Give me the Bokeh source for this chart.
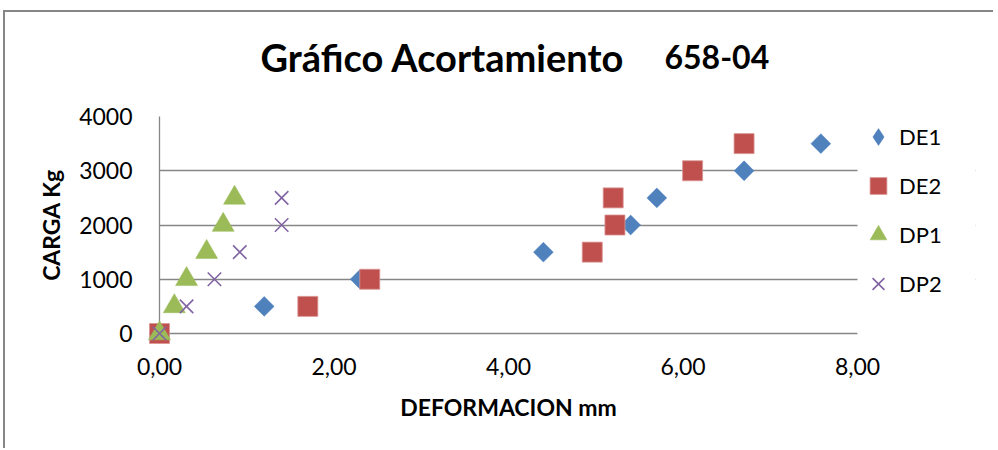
from bokeh.plotting import figure
from bokeh.models import (Legend, LegendItem, FixedTicker, BoxAnnotation,
                          CustomJSTickFormatter, Range1d)
from bokeh.core.properties import value
from bokeh.embed import file_html
from bokeh.resources import INLINE

# ---- data ----
de1_x = [0.00, 1.20, 2.30, 4.40, 5.40, 5.70, 6.70, 7.58]
de1_y = [0, 500, 1000, 1500, 2000, 2500, 3000, 3500]
de2_x = [0.00, 1.70, 2.41, 4.96, 5.22, 5.20, 6.11, 6.70]
de2_y = [0, 500, 1000, 1500, 2000, 2500, 3000, 3500]
dp1_x = [0.00, 0.17, 0.31, 0.54, 0.73, 0.86]
dp1_y = [0, 500, 1000, 1500, 2000, 2500]
dp2_x = [0.00, 0.31, 0.63, 0.92, 1.40, 1.40]
dp2_y = [0, 500, 1000, 1500, 2000, 2500]

x_ticks = [0, 2, 4, 6, 8]
y_ticks = [0, 1000, 2000, 3000, 4000]

title_main = "Gráfico Acortamiento"
title_code = "658-04"
x_label = "DEFORMACION mm"
y_label = "CARGA Kg"
names = ["DE1", "DE2", "DP1", "DP2"]

FONT = "Lato"
GRAY = "#868686"
COLORS = ["#4F81BD", "#C0504D", "#9BBB59", "#8064A2"]

# ---- layout (pixels) ----
OX, OY = 5, 12                    # page offset of the figure (margin + border)
W, H = 990, 438
B_LEFT, B_RIGHT, B_TOP, B_BOTTOM = 154, 20, 104, 117
AXIS_PX = 698                     # pixels spanned by the 0..8 axis
X0, XMAX, Y0, Y1 = 0, 8, 0, 4000
BASELINE_FIX = 17                 # text glyph baseline correction (px)

frame_w = W - B_LEFT - B_RIGHT
frame_h = H - B_TOP - B_BOTTOM
X1 = X0 + (XMAX - X0) * frame_w / AXIS_PX   # extra room right of 8 holds the legend
frame_left = OX + B_LEFT
frame_bottom = OY + H - B_BOTTOM

def page_x(px):
    return X0 + (px - frame_left) * (X1 - X0) / frame_w

def page_y(py):
    return Y0 + (frame_bottom - (py - BASELINE_FIX)) * (Y1 - Y0) / frame_h

p = figure(width=W, height=H, output_backend="svg", toolbar_location=None,
           x_range=Range1d(X0, X1), y_range=Range1d(Y0, Y1),
           min_border_left=B_LEFT, min_border_right=B_RIGHT,
           min_border_top=B_TOP, min_border_bottom=B_BOTTOM)
p.styles = {"border-left": f"2px solid {GRAY}", "border-top": f"2px solid {GRAY}",
            "margin-left": "3px", "margin-top": "10px"}
p.outline_line_color = None
p.background_fill_color = "white"
p.border_fill_color = "white"

# grid
p.xgrid.grid_line_color = None
p.ygrid.grid_line_color = GRAY
p.ygrid.grid_line_width = 1.3
p.ygrid.ticker = FixedTicker(ticks=y_ticks)

# axes
for ax in (p.xaxis[0], p.yaxis[0]):
    ax.major_tick_line_color = None
    ax.minor_tick_line_color = None
    ax.axis_line_color = GRAY
    ax.axis_line_width = 1.3
    ax.major_label_text_font = FONT
    ax.major_label_text_font_size = "23px"
    ax.major_label_text_color = "black"
    ax.axis_label_text_font = FONT
    ax.axis_label_text_font_size = "23px"
    ax.axis_label_text_font_style = "bold"
    ax.axis_label_text_color = "black"

p.xaxis.ticker = FixedTicker(ticks=x_ticks)
p.xaxis.bounds = (X0, XMAX)
p.xaxis.formatter = CustomJSTickFormatter(code="return tick.toFixed(2).replace('.', ',');")
p.xaxis.major_label_standoff = 18

p.yaxis.ticker = FixedTicker(ticks=y_ticks)
p.yaxis.formatter = CustomJSTickFormatter(code="return tick.toFixed(0);")
p.yaxis.major_label_standoff = 21
p.yaxis.axis_label = y_label
p.yaxis.axis_label_standoff = 11

# blank out the grid to the right of the axis end (legend area)
p.add_layout(BoxAnnotation(left=XMAX, fill_color="white", fill_alpha=1.0,
                           line_color=None, line_alpha=0))

# legend-only diamond (hidden under the rotated squares; legend glyphs ignore angle)
r1_leg = p.scatter(de1_x, de1_y, marker="diamond", size=16,
                   fill_color=COLORS[0], line_color="#4A7EBB", line_width=0.5)

# series
r1 = p.scatter(de1_x, de1_y, marker="square", angle=0.785398, size=14,
               fill_color=COLORS[0], line_color="#4A7EBB", line_width=0.5)
r2 = p.scatter(de2_x, de2_y, marker="square", size=20,
               fill_color=COLORS[1], line_color="#D99694", line_width=0.8)
r3 = p.scatter(dp1_x, dp1_y, marker="triangle", size=22,
               fill_color=COLORS[2], line_color=COLORS[2], line_width=0.5)
r4 = p.scatter(dp2_x, dp2_y, marker="x", size=19,
               line_color=COLORS[3], line_width=1.6)
for r in (r1_leg, r1, r2, r3, r4):
    r.level = "overlay"

legend = Legend(items=[LegendItem(label=n, renderers=[r])
                       for n, r in zip(names, (r1_leg, r2, r3, r4))],
                location=(857 - frame_left, frame_bottom - (115 + 4 * 43 + 3 * 6)),
                orientation="vertical",
                glyph_width=42, glyph_height=43, spacing=6, padding=0, margin=0,
                label_standoff=0, label_text_font=FONT, label_text_font_size="22px",
                label_text_color="black", border_line_color=None,
                background_fill_alpha=0)
p.add_layout(legend, "center")

# title (two sizes) and x-axis label, centred under the 0..8 axis
title_y = page_y(73)
t1 = p.text(x=[page_x(260)], y=[title_y], text=[title_main],
            text_font=value(FONT), text_font_size="38px", text_font_style="bold",
            text_color="black", text_align="left", text_baseline="alphabetic")
t2 = p.text(x=[page_x(664)], y=[title_y], text=[title_code],
            text_font=value(FONT), text_font_size="32px", text_font_style="bold",
            text_color="black", text_align="left", text_baseline="alphabetic")
t3 = p.text(x=[page_x(508)], y=[page_y(423)], text=[x_label],
            text_font=value(FONT), text_font_size="23px", text_font_style="bold",
            text_color="black", text_align="center", text_baseline="alphabetic")
for t in (t1, t2, t3):
    t.level = "overlay"

open("out.html", "w").write(file_html(p, INLINE))
